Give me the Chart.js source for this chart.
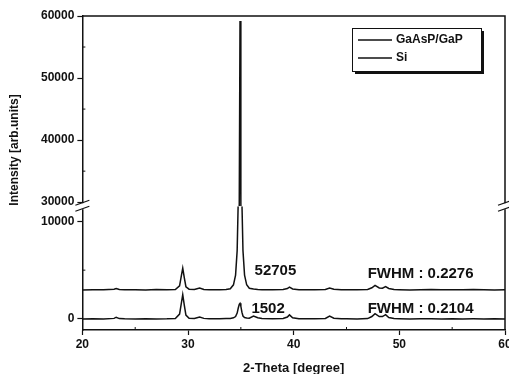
<!DOCTYPE html>
<html>
<head>
<meta charset="utf-8">
<script src="https://cdn.jsdelivr.net/npm/chart.js@4.4.1/dist/chart.umd.min.js"></script>
<style>
  body { margin: 0; background: #fff; }
</style>
</head>
<body>
<canvas id="myChart" width="509" height="374"></canvas>
<script>
// 2-theta positions (degree)
const theta = [
    20, 21, 22, 23, 23.2, 23.5, 24, 25, 26, 27,
    28, 28.8, 29.2, 29.35, 29.5, 29.65, 29.8, 30.1, 30.6, 31.1,
    31.5, 32, 33, 33.6, 34.0, 34.3, 34.5, 34.65, 34.75, 34.85,
    34.92, 35.0, 35.1, 35.2, 35.35, 35.55, 35.8, 36.2, 36.6, 37,
    38, 39, 39.4, 39.6, 39.9, 40.5, 41, 42, 43, 43.4,
    43.8, 44.5, 45, 46, 47, 47.4, 47.7, 48.1, 48.4, 48.7,
    49.0, 49.5, 50, 51, 52, 53, 54, 55, 56, 57,
    58, 59, 60
];

// GaAsP/GaP (plotted with offset)
const gaaspValues = [
    2980, 3000, 2990, 3050, 3120, 3010, 2990, 3000, 2980, 3010,
    2990, 3020, 3400, 4300, 5200, 4200, 3300, 3050, 3020, 3180,
    3020, 2990, 3000, 3030, 3100, 3500, 4500, 7000, 12000, 30000,
    59200, 30000, 12000, 7000, 4500, 3500, 3150, 3080, 3020, 3000,
    2990, 3020, 3120, 3260, 3080, 3000, 2990, 3000, 3020, 3170,
    3040, 2990, 3000, 2990, 3020, 3200, 3450, 3180, 3150, 3320,
    3120, 3010, 3000, 2980, 3000, 3010, 2990, 3000, 2990, 3010,
    3000, 2980, 3000
];

// Si
const siValues = [
    0, 20, 0, 60, 180, 40, 10, 0, 20, 0,
    10, 40, 500, 1500, 2500, 1400, 400, 80, 40, 200,
    60, 20, 10, 40, 60, 120, 250, 600, 1100, 1500,
    1600, 1300, 700, 300, 150, 100, 80, 300, 120, 40,
    20, 40, 200, 420, 120, 30, 20, 20, 50, 300,
    80, 20, 10, 0, 40, 250, 550, 250, 250, 450,
    150, 40, 20, 0, 20, 10, 0, 20, 0, 10,
    0, 20, 0
];

// tick labels
const xTicks = [20, 30, 40, 50, 60];
const xMinor = [25, 35, 45, 55];
const yHighTicks = [30000, 40000, 50000, 60000];
const yHighMinor = [35000, 45000, 55000];
const yLowTicks = [0, 10000];
const yLowMinor = [5000];

// text notes: text, theta, intensity (lower band)
const noteTexts = ['52705', 'FWHM : 0.2276', '1502', 'FWHM : 0.2104'];
const noteTheta = [36.3, 47.0, 36.0, 47.0];
const noteIntensity = [4950, 4640, 1030, 1030];

const seriesLabels = ['GaAsP/GaP', 'Si'];

function toPoints(values) {
    return theta.map((t, i) => ({ x: t, y: values[i] }));
}

const FONT = "'Liberation Sans', Arial, sans-serif";
const INK = '#111';

// clip each dataset to the band of its own y axis
const bandClip = {
    id: 'bandClip',
    beforeDatasetDraw(chart, args) {
        const meta = chart.getDatasetMeta(args.index);
        const ys = meta.yScale;
        const ca = chart.chartArea;
        const ctx = chart.ctx;
        ctx.save();
        ctx.beginPath();
        ctx.rect(ca.left - 2, ys.top, ca.right - ca.left + 4, ys.bottom - ys.top);
        ctx.clip();
    },
    afterDatasetDraw(chart) {
        chart.ctx.restore();
    }
};

// frame, break marks, minor ticks, notes, legend, y title
const decorations = {
    id: 'decorations',
    afterDraw(chart) {
        const ctx = chart.ctx;
        const ca = chart.chartArea;
        const sx = chart.scales.x;
        const hi = chart.scales.yHigh;
        const lo = chart.scales.yLow;
        const brk = hi.bottom;

        ctx.save();
        ctx.strokeStyle = INK;
        ctx.fillStyle = INK;
        ctx.lineWidth = 1.5;

        // top and right frame
        ctx.beginPath();
        ctx.moveTo(ca.left, ca.top);
        ctx.lineTo(ca.right, ca.top);
        ctx.lineTo(ca.right, ca.bottom);
        ctx.stroke();

        // minor ticks
        ctx.lineWidth = 1;
        ctx.beginPath();
        xMinor.forEach(v => {
            const px = sx.getPixelForValue(v);
            ctx.moveTo(px, ca.bottom);
            ctx.lineTo(px, ca.bottom - 3);
        });
        yHighMinor.forEach(v => {
            const py = hi.getPixelForValue(v);
            ctx.moveTo(ca.left, py);
            ctx.lineTo(ca.left + 3, py);
        });
        yLowMinor.forEach(v => {
            const py = lo.getPixelForValue(v);
            ctx.moveTo(ca.left, py);
            ctx.lineTo(ca.left + 3, py);
        });
        ctx.stroke();

        // axis break marks on both sides
        [ca.left, ca.right].forEach(x => {
            ctx.fillStyle = '#fff';
            ctx.fillRect(x - 2, brk - 3, 4, 6);
            ctx.strokeStyle = INK;
            ctx.lineWidth = 1.2;
            ctx.beginPath();
            ctx.moveTo(x - 7, brk - 1);
            ctx.lineTo(x + 7, brk - 6);
            ctx.moveTo(x - 7, brk + 5);
            ctx.lineTo(x + 7, brk);
            ctx.stroke();
        });

        // notes
        ctx.fillStyle = INK;
        ctx.font = 'bold 15px ' + FONT;
        ctx.textBaseline = 'middle';
        ctx.textAlign = 'left';
        noteTexts.forEach((t, i) => {
            ctx.fillText(t, sx.getPixelForValue(noteTheta[i]), lo.getPixelForValue(noteIntensity[i]));
        });

        // legend box with shadow
        const bx = 352, by = 28, bw = 129, bh = 43;
        ctx.fillStyle = INK;
        ctx.fillRect(bx + 3, by + 3, bw, bh);
        ctx.fillStyle = '#fff';
        ctx.fillRect(bx, by, bw, bh);
        ctx.strokeStyle = INK;
        ctx.lineWidth = 1;
        ctx.strokeRect(bx + 0.5, by + 0.5, bw, bh);
        ctx.font = 'bold 12px ' + FONT;
        ctx.textBaseline = 'middle';
        seriesLabels.forEach((label, i) => {
            const ly = by + 12 + i * 18;
            ctx.lineWidth = 1.5;
            ctx.beginPath();
            ctx.moveTo(bx + 6, ly);
            ctx.lineTo(bx + 40, ly);
            ctx.stroke();
            ctx.fillStyle = INK;
            ctx.fillText(label, bx + 44, ly);
        });

        // y axis title
        ctx.translate(15, 150);
        ctx.rotate(-Math.PI / 2);
        ctx.textAlign = 'center';
        ctx.font = 'bold 12px ' + FONT;
        ctx.fillText('Intensity [arb.units]', 0, 0);
        ctx.restore();
    }
};

function setTicks(values) {
    return scale => { scale.ticks = values.map(v => ({ value: v })); };
}

const axisGrid = {
    drawOnChartArea: false,
    drawTicks: true,
    tickLength: 5,
    color: INK,
    tickColor: INK,
    tickWidth: 1.2
};
const axisBorder = { display: true, color: INK, width: 1.5 };
const tickFont = { family: FONT, size: 12, weight: 'bold' };
const plainLabel = v => String(v);

const ctx = document.getElementById('myChart').getContext('2d');

const myChart = new Chart(ctx, {
    type: 'line',
    data: {
        datasets: [
            {
                label: seriesLabels[0],
                data: toPoints(gaaspValues),
                yAxisID: 'yLow'
            },
            {
                label: seriesLabels[0],
                data: toPoints(gaaspValues),
                yAxisID: 'yHigh'
            },
            {
                label: seriesLabels[1],
                data: toPoints(siValues),
                yAxisID: 'yLow'
            }
        ]
    },
    options: {
        responsive: false,
        animation: false,
        parsing: false,
        elements: {
            line: { borderColor: INK, borderWidth: 1.5, tension: 0 },
            point: { radius: 0 }
        },
        layout: {
            padding: { left: 38, top: 16, right: 4, bottom: 0 }
        },
        scales: {
            x: {
                type: 'linear',
                position: 'bottom',
                min: 20,
                max: 60,
                afterBuildTicks: setTicks(xTicks),
                // let the last label run off the edge like the original
                afterFit: scale => { scale.paddingRight = 0; },
                ticks: { color: INK, font: tickFont, padding: 2, callback: plainLabel },
                grid: axisGrid,
                border: axisBorder,
                title: {
                    display: true,
                    text: '2-Theta [degree]',
                    color: INK,
                    font: { family: FONT, size: 13, weight: 'bold' },
                    padding: { top: 7, bottom: -2 }
                }
            },
            yLow: {
                type: 'linear',
                position: 'left',
                stack: 'y',
                stackWeight: 123,
                min: -1130,
                max: 11550,
                afterBuildTicks: setTicks(yLowTicks),
                ticks: { color: INK, font: tickFont, padding: 3, callback: plainLabel },
                grid: axisGrid,
                border: axisBorder
            },
            yHigh: {
                type: 'linear',
                position: 'left',
                stack: 'y',
                stackWeight: 189,
                min: 29350,
                max: 60000,
                afterBuildTicks: setTicks(yHighTicks),
                ticks: { color: INK, font: tickFont, padding: 3, callback: plainLabel },
                grid: axisGrid,
                border: axisBorder
            }
        },
        plugins: {
            legend: { display: false },
            tooltip: { enabled: false }
        }
    },
    plugins: [bandClip, decorations]
});
</script>
</body>
</html>
